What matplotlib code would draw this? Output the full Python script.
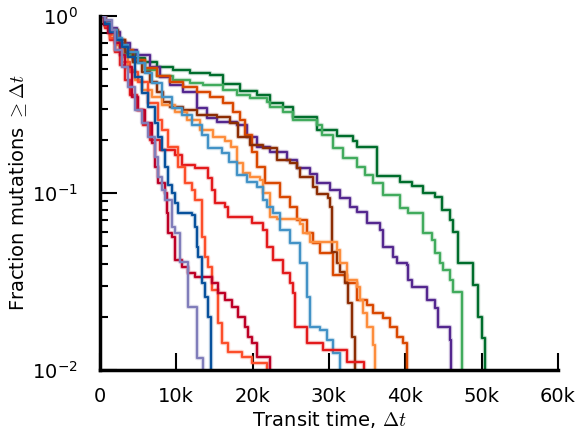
import numpy as np
import matplotlib.pyplot as plt
import matplotlib.patheffects as pe
from matplotlib.ticker import FuncFormatter

plt.rcParams['axes.unicode_minus'] = False
plt.rcParams['mathtext.fontset'] = 'cm'

# transit times in units of 1k; fraction of mutations with transit time >= t
dg_t = [0, 0.66, 1.31, 1.97, 2.62, 3.28, 4.59, 5.90, 7.47, 9.56, 11.79, 14.41, 16.11, 18.34,
        20.57, 22.27, 23.97, 25.28, 28.43, 31.05, 33.15, 33.67, 36.29, 39.30, 40.84, 42.32,
        43.89, 44.81, 45.85, 46.25, 46.90, 48.87, 49.52, 50.05]
dg_f = [1.0, 0.925, 0.833, 0.751, 0.677, 0.618, 0.579, 0.550, 0.515, 0.495, 0.476, 0.464, 0.413,
        0.377, 0.358, 0.322, 0.306, 0.269, 0.227, 0.210, 0.197, 0.182, 0.125, 0.115, 0.110,
        0.100, 0.095, 0.080, 0.0704, 0.0602, 0.0402, 0.0302, 0.0199, 0.0152]
dg_end = 50.44

lg_t = [0, 0.66, 1.31, 1.97, 2.62, 3.28, 4.32, 5.90, 7.47, 9.56, 11.79, 13.49, 16.11, 17.95,
        19.65, 21.88, 22.27, 23.97, 25.28, 28.43, 29.08, 30.52, 31.84, 33.67, 34.72, 35.77,
        37.08, 39.30, 40.35, 42.32, 43.50, 43.89, 44.54, 44.94, 45.85, 46.25]
lg_f = [1.0, 0.901, 0.812, 0.732, 0.659, 0.602, 0.550, 0.495, 0.458, 0.435, 0.418, 0.407, 0.382,
        0.358, 0.344, 0.327, 0.306, 0.287, 0.258, 0.242, 0.213, 0.180, 0.158, 0.140, 0.126,
        0.114, 0.0974, 0.0823, 0.0771, 0.0594, 0.0543, 0.0458, 0.0402, 0.0367, 0.0322, 0.0276]
lg_end = 47.45

pu_t = [0, 0.66, 1.31, 2.23, 2.62, 3.93, 4.85, 6.55, 7.86, 9.17, 10.87, 12.71, 14.02, 15.33,
        17.95, 19.26, 20.57, 22.27, 24.50, 25.81, 27.51, 28.43, 30.13, 31.44, 32.75, 33.67,
        34.98, 36.68, 37.08, 38.39, 38.91, 40.22, 40.35, 40.88, 42.84, 43.89, 44.28, 45.85]
pu_f = [1.0, 0.925, 0.855, 0.812, 0.704, 0.643, 0.602, 0.515, 0.452, 0.407, 0.372, 0.302, 0.265,
        0.252, 0.242, 0.207, 0.182, 0.171, 0.154, 0.138, 0.128, 0.114, 0.104, 0.0937, 0.0834,
        0.0781, 0.0677, 0.0618, 0.0495, 0.0435, 0.0402, 0.0392, 0.0323, 0.0294, 0.0249,
        0.0224, 0.0175, 0.0148]
pu_end = 45.98

do_t = [0, 0.66, 1.31, 2.23, 3.28, 4.32, 5.90, 7.47, 9.17, 10.87, 12.71, 14.41, 16.11, 17.42,
        18.34, 19.00, 19.91, 20.57, 21.62, 23.58, 24.89, 25.81, 27.12, 27.91, 28.83, 30.52,
        32.36, 33.67, 34.98, 35.77, 37.08, 37.99, 38.91, 39.70]
do_f = [1.0, 0.901, 0.812, 0.732, 0.643, 0.564, 0.508, 0.458, 0.424, 0.397, 0.372, 0.349, 0.322,
        0.287, 0.258, 0.213, 0.171, 0.140, 0.114, 0.095, 0.0834, 0.0704, 0.0594, 0.0522,
        0.0458, 0.0344, 0.0310, 0.0249, 0.0233, 0.0210, 0.0197, 0.0175, 0.0154, 0.0142]
do_end = 40.22

br_t = [0, 0.66, 1.31, 2.36, 3.28, 4.32, 5.50, 6.55, 7.47, 8.25, 9.17, 10.87, 12.71, 15.33,
        17.03, 18.08, 19.65, 21.36, 23.19, 24.89, 25.81, 26.20, 27.91, 28.43, 29.87, 30.13,
        30.39, 31.05, 31.44, 32.10, 32.49, 33.01]
br_f = [1.0, 0.913, 0.833, 0.732, 0.626, 0.550, 0.483, 0.424, 0.372, 0.327, 0.306, 0.294, 0.276,
        0.269, 0.249, 0.207, 0.187, 0.180, 0.154, 0.148, 0.138, 0.123, 0.108, 0.0987, 0.0937,
        0.0834, 0.0464, 0.0402, 0.0358, 0.0310, 0.0239, 0.0154]
br_end = 33.41

lo_t = [0, 0.66, 1.31, 2.23, 2.88, 3.67, 4.59, 5.50, 6.81, 8.12, 9.83, 11.40, 13.10, 14.80,
        16.38, 17.16, 17.95, 18.73, 19.65, 20.96, 21.36, 22.27, 23.19, 26.20, 26.60, 27.51,
        31.05, 31.44, 32.36, 33.67, 34.06, 34.46, 34.98, 35.77]
lo_f = [1.0, 0.890, 0.781, 0.686, 0.587, 0.495, 0.435, 0.382, 0.349, 0.314, 0.287, 0.258, 0.227,
        0.207, 0.197, 0.182, 0.148, 0.130, 0.123, 0.118, 0.100, 0.0732, 0.0713, 0.0668, 0.0594,
        0.0529, 0.0477, 0.0402, 0.0323, 0.0294, 0.0249, 0.0210, 0.0175, 0.0138]
lo_end = 36.03

lb_t = [0, 0.66, 1.31, 2.23, 2.88, 3.67, 4.98, 5.90, 6.81, 8.12, 9.43, 10.74, 12.05, 13.36,
        14.15, 15.98, 16.90, 17.95, 19.26, 20.57, 21.36, 21.88, 22.67, 23.58, 24.89, 26.20,
        27.12, 27.51, 28.82, 29.74, 30.52]
lb_f = [1.0, 0.913, 0.833, 0.751, 0.686, 0.626, 0.543, 0.476, 0.418, 0.349, 0.302, 0.276, 0.242,
        0.213, 0.180, 0.168, 0.150, 0.126, 0.115, 0.108, 0.0913, 0.0834, 0.0771, 0.0618, 0.0522,
        0.0402, 0.0258, 0.0175, 0.0169, 0.0148, 0.0125]
lb_end = 31.44

re_t = [0, 0.66, 1.31, 1.97, 2.62, 3.28, 3.93, 4.85, 5.63, 6.55, 7.86, 9.83, 10.74, 12.45,
        14.15, 14.67, 15.07, 16.38, 16.77, 19.91, 21.36, 21.88, 22.67, 23.97, 24.89, 25.28,
        25.55, 27.12, 29.21, 32.36]
re_f = [1.0, 0.855, 0.732, 0.626, 0.528, 0.435, 0.358, 0.294, 0.242, 0.199, 0.175, 0.164, 0.144,
        0.139, 0.122, 0.104, 0.0878, 0.0834, 0.0732, 0.0677, 0.0618, 0.0495, 0.0419, 0.0353,
        0.0310, 0.0272, 0.0175, 0.0142, 0.0130, 0.0111]
re_end = 34.6

or_t = [0, 0.66, 1.31, 1.97, 2.88, 3.93, 4.98, 6.29, 7.60, 8.12, 8.91, 10.22, 11.14, 12.05,
        12.45, 13.36, 13.76, 14.15, 14.67, 15.46, 15.98, 16.77, 18.60, 19.91]
or_f = [1.0, 0.878, 0.751, 0.643, 0.550, 0.483, 0.424, 0.322, 0.258, 0.227, 0.182, 0.140, 0.114,
        0.104, 0.0913, 0.0564, 0.0435, 0.0382, 0.0284, 0.0184, 0.0142, 0.0126, 0.0118, 0.0110]
or_end = 21.88

cr_t = [0, 0.52, 1.05, 1.97, 2.62, 3.28, 4.19, 4.98, 5.90, 6.81, 7.21, 7.60, 8.52, 8.78, 8.91,
        9.43, 9.83, 10.74, 11.53, 12.45, 14.67, 15.46, 16.38, 17.29, 18.08, 19.00, 19.39,
        19.91, 20.57]
cr_f = [1.0, 0.890, 0.802, 0.704, 0.602, 0.515, 0.349, 0.294, 0.249, 0.192, 0.140, 0.114, 0.100,
        0.0771, 0.0594, 0.0564, 0.0419, 0.0382, 0.0354, 0.0335, 0.0310, 0.0272, 0.0249, 0.0227,
        0.0200, 0.0175, 0.0154, 0.0142, 0.0118]
cr_end = 22.27

db_t = [0, 0.66, 1.31, 2.10, 2.88, 3.67, 4.59, 5.50, 6.29, 7.21, 7.60, 8.12, 8.52, 8.91, 9.43,
        9.83, 10.22, 12.05, 12.45, 12.71, 12.84, 13.36, 13.76, 14.15]
db_f = [1.0, 0.901, 0.812, 0.732, 0.668, 0.586, 0.452, 0.367, 0.306, 0.249, 0.207, 0.175, 0.140,
        0.111, 0.100, 0.0878, 0.0771, 0.0751, 0.0643, 0.0495, 0.0436, 0.0310, 0.0258, 0.0200]
db_end = 14.6

lv_t = [0, 0.66, 1.57, 1.97, 2.88, 3.67, 4.59, 5.50, 6.29, 7.21, 7.60, 8.12, 8.52, 9.43, 9.83,
        10.48, 11.53, 12.71]
lv_f = [1.0, 0.949, 0.833, 0.643, 0.515, 0.397, 0.294, 0.249, 0.207, 0.160, 0.123, 0.104,
        0.0913, 0.0643, 0.0594, 0.0408, 0.0227, 0.0117]
lv_end = 13.49

curves = [
    (dg_t, dg_f, dg_end, '#006d2c'),
    (lg_t, lg_f, lg_end, '#41ab5d'),
    (pu_t, pu_f, pu_end, '#54278f'),
    (do_t, do_f, do_end, '#d94801'),
    (br_t, br_f, br_end, '#8c2d04'),
    (lo_t, lo_f, lo_end, '#fd8d3c'),
    (lb_t, lb_f, lb_end, '#4292c6'),
    (re_t, re_f, re_end, '#e31a1c'),
    (or_t, or_f, or_end, '#fc4e2a'),
    (cr_t, cr_f, cr_end, '#bd0026'),
    (db_t, db_f, db_end, '#08519c'),
    (lv_t, lv_f, lv_end, '#807dba'),
]

fig = plt.figure(figsize=(5.77, 4.38), dpi=100)
ax = fig.add_axes([0.173, 0.155, 0.794, 0.8085])

for t, f, end, c in curves:
    x = np.append(np.array(t) * 1000, end * 1000)
    y = np.append(f, 1e-3)
    ax.plot(x, y, drawstyle='steps-post', color=c, lw=1.6,
            path_effects=[pe.Stroke(linewidth=3.2, foreground=c, alpha=0.25), pe.Normal()])

ax.set_yscale('log')
ax.set_xlim(0, 60000)
ax.set_ylim(1e-2, 1)
ax.set_xticks(np.arange(0, 60001, 10000))
ax.xaxis.set_major_formatter(FuncFormatter(lambda v, p: '0' if v == 0 else '%dk' % (v / 1000)))

for s in ['top', 'right']:
    ax.spines[s].set_visible(False)
for s in ['left', 'bottom']:
    ax.spines[s].set_linewidth(2.5)
ax.xaxis.set_ticks_position('bottom')
ax.yaxis.set_ticks_position('left')
ax.tick_params(which='major', direction='in', length=12, width=1.5, labelsize=14)
ax.tick_params(which='minor', direction='in', length=6, width=1.5)
ax.tick_params(axis='x', pad=12)
ax.tick_params(axis='y', pad=16)

ax.set_xlabel(r'Transit time, $\Delta t$', fontsize=14, labelpad=2)
ax.set_ylabel(r'Fraction mutations $\geq \Delta t$', fontsize=14, labelpad=2)

fig.savefig('out.png', dpi=100)
